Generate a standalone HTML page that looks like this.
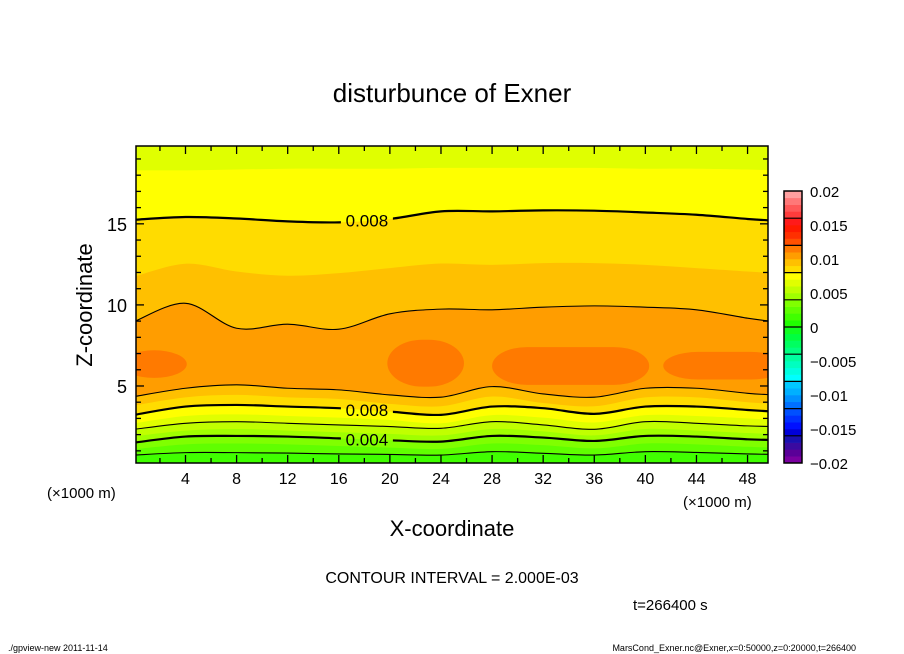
<!DOCTYPE html>
<html><head><meta charset="utf-8"><style>
body{margin:0;background:#fff;}
svg{display:block;font-family:"Liberation Sans","DejaVu Sans",sans-serif;}
</style></head><body>
<svg id="chart" width="904" height="654" viewBox="0 0 904 654">
<defs><clipPath id="plotclip"><rect x="136" y="146" width="632" height="317"/></clipPath>
<mask id="labelmask" maskUnits="userSpaceOnUse" x="0" y="0" width="904" height="654"><rect x="0" y="0" width="904" height="654" fill="#fff"/><g id="maskholes"></g></mask></defs>
<g id="fills" clip-path="url(#plotclip)"></g>
<g clip-path="url(#plotclip)"><g id="lines" mask="url(#labelmask)"></g></g>
<g id="labels"></g>
<g id="axes"></g>
<g id="cbar"></g>
<text x="452" y="102" font-size="26" text-anchor="middle">disturbunce of Exner</text>
<text transform="translate(92,305) rotate(-90)" font-size="22" text-anchor="middle">Z-coordinate</text>
<text x="452" y="536" font-size="22" text-anchor="middle">X-coordinate</text>
<text x="47" y="498" font-size="15">(×1000 m)</text>
<text x="683" y="507" font-size="15">(×1000 m)</text>
<text x="452" y="583" font-size="16" text-anchor="middle">CONTOUR INTERVAL = 2.000E-03</text>
<text x="633" y="610" font-size="15">t=266400 s</text>
<text x="8" y="651" font-size="9">./gpview-new  2011-11-14</text>
<text x="856" y="651" font-size="9" text-anchor="end">MarsCond_Exner.nc@Exner,x=0:50000,z=0:20000,t=266400</text>
</svg>
<script>
// ---- data ----
const xSamples = [0,4,8,12,16,20,24,28,32,36,40,44,48,50];
const boundaryLevels = [0.007,0.008,0.009,0.010,0.010,0.009,0.008,0.007,0.006,0.005,0.004,0.003,0.002];
const bandBelow = [0.007,0.008,0.009,0.010,0.009,0.008,0.007,0.006,0.005,0.004,0.003,0.002,0.001];
const topBand = 0.006;
const zB1 = [18.3,18.3,18.35,18.4,18.4,18.4,18.45,18.45,18.45,18.45,18.4,18.4,18.35,18.3];
const zB2 = [15.25,15.42,15.33,15.15,15.09,15.3,15.77,15.77,15.83,15.81,15.7,15.56,15.3,15.2];
const zB3 = [11.75,12.54,12.06,11.8,11.96,12.27,12.55,12.47,12.58,12.58,12.47,12.27,12.06,11.96];
const zB4 = [8.98,10.1,8.56,8.81,8.5,9.45,9.74,9.7,9.86,9.94,9.86,9.7,9.18,8.98];
const zB5 = [4.35,4.86,5.07,4.86,4.76,4.45,4.31,4.96,4.51,4.31,4.86,4.86,4.55,4.45];
const zB6 = [3.8,4.3,4.45,4.3,4.2,3.9,3.75,4.35,3.95,3.75,4.3,4.3,4.0,3.9];
const zB7 = [3.22,3.73,3.83,3.73,3.63,3.42,3.22,3.73,3.63,3.28,3.73,3.73,3.52,3.42];
const zB8 = [2.7,3.15,3.25,3.15,3.05,2.9,2.7,3.2,3.05,2.75,3.2,3.15,3.0,2.9];
const zB9 = [2.33,2.7,2.8,2.7,2.6,2.5,2.39,2.8,2.6,2.33,2.8,2.7,2.54,2.5];
const zB10 = [1.9,2.25,2.35,2.25,2.15,2.05,1.95,2.35,2.2,1.95,2.35,2.25,2.1,2.05];
const zB11 = [1.51,1.88,1.92,1.88,1.77,1.65,1.57,1.92,1.82,1.61,1.92,1.88,1.71,1.67];
const zB12 = [1.1,1.4,1.45,1.4,1.3,1.2,1.12,1.45,1.35,1.15,1.45,1.4,1.25,1.2];
const zB13 = [0.74,0.89,0.89,0.86,0.81,0.78,0.74,0.95,0.85,0.74,0.95,0.9,0.81,0.78];
const boundaryZ = [zB1,zB2,zB3,zB4,zB5,zB6,zB7,zB8,zB9,zB10,zB11,zB12,zB13];
// patches of 0.011-0.012
const patchX0 = [-1,19.8,28.0,41.4];
const patchX1 = [4.1,25.8,40.3,51];
const patchZTop = [7.2,7.85,7.4,7.1];
const patchZBot = [5.5,4.96,5.07,5.4];
const patchBand = 0.011;
const labelX = 18.2;
const xTicks = [4,8,12,16,20,24,28,32,36,40,44,48];
const zTicks = [5,10,15];
const cbarTicks = [0.02,0.015,0.01,0.005,0,-0.005,-0.01,-0.015,-0.02];
const cbarColors = ["#7a00a0","#5a0098","#3a0aa0","#1a10b0","#0000d8","#0010ff","#0030ff","#0050ff","#0070ff","#0090ff","#00b0ff","#00c8ff","#00ffff","#00ffe0","#00ffc0","#00ffa0","#00ff80","#00ff60","#00ff40","#10ff20","#20ff00","#40ff00","#60ff00","#80ff00","#a0ff00","#c0ff00","#e0ff00","#ffff00","#ffdc00","#ffc000","#ff9d00","#ff7a00","#ff5000","#ff3000","#ff1a00","#ff1a1a","#ff3c3c","#ff5858","#ff7878","#ffa0a0"];

// ---- axes functions ----
const X0=136,X1=768,Y0=463,Y1=146, XMIN=0.125, XMAX=49.6, ZMIN=0.25, ZMAX=19.8;
const sx = v => X0 + (v-XMIN)/(XMAX-XMIN)*(X1-X0);
const sz = v => Y0 - (v-ZMIN)/(ZMAX-ZMIN)*(Y0-Y1);
const colorFor = lo => cbarColors[Math.round((lo+0.02)/0.001)];
const NS="http://www.w3.org/2000/svg";
function mk(tag, attrs, parent){const e=document.createElementNS(NS,tag);for(const k in attrs)e.setAttribute(k,attrs[k]);parent.appendChild(e);return e;}
function curve(zs){
  const p = xSamples.map((x,i)=>[sx(x),sz(zs[i])]);
  let d = `M${p[0][0]},${p[0][1]}`;
  for(let i=0;i<p.length-1;i++){
    const a=p[Math.max(0,i-1)],b=p[i],c=p[i+1],e=p[Math.min(p.length-1,i+2)];
    d+=` C${b[0]+(c[0]-a[0])/6},${b[1]+(c[1]-a[1])/6} ${c[0]-(e[0]-b[0])/6},${c[1]-(e[1]-b[1])/6} ${c[0]},${c[1]}`;
  }
  return d;
}
const fills=document.getElementById('fills'), lines=document.getElementById('lines'), axes=document.getElementById('axes'), cbar=document.getElementById('cbar'), labels=document.getElementById('labels'), holes=document.getElementById('maskholes');
let r=mk('rect',{x:X0,y:Y1,width:X1-X0,height:Y0-Y1,fill:colorFor(topBand)},fills);


boundaryZ.forEach((zs,i)=>{
  const d = curve(zs)+` L${sx(50)+5},${Y0+5} L${sx(0)-5},${Y0+5} Z`;
  const el=mk('path',{d:d,fill:colorFor(bandBelow[i])},fills);
  
  
  if(i===3){
    patchX0.forEach((x0,j)=>{
      const pw=sx(patchX1[j])-sx(x0), ph=sz(patchZBot[j])-sz(patchZTop[j]);
      const pe=mk('rect',{x:sx(x0),y:sz(patchZTop[j]),width:pw,height:ph,rx:Math.min(pw/2,35),ry:ph/2,fill:colorFor(patchBand)},fills);
      
      
    });
  }
});
// contour lines (every 0.002; thick every 0.004)
boundaryZ.forEach((zs,i)=>{
  const lv=Math.round(boundaryLevels[i]*1000);
  if(lv%2!==0) return;
  const thick = lv%4===0;
  const el=mk('path',{d:curve(zs),fill:'none',stroke:'#000','stroke-width':thick?2.2:1.1},lines);
  
  
  if(thick){
    const zi = zs[4]+(zs[5]-zs[4])*((labelX-16)/4);
    mk('rect',{x:sx(labelX)-26,y:sz(zi)-10,width:52,height:20,fill:'#000'},holes);
    const t=mk('text',{x:sx(labelX),y:sz(zi)+6,'font-size':17,'text-anchor':'middle'},labels);
    t.textContent=boundaryLevels[i].toFixed(3);
    
    
  }
});
// frame
let fr=mk('rect',{x:X0,y:Y1,width:X1-X0,height:Y0-Y1,fill:'none',stroke:'#000','stroke-width':1.5},axes);


for(let v=2;v<=48;v+=2){
  const L = v%4===0?8:5;
  mk('line',{x1:sx(v),x2:sx(v),y1:Y0,y2:Y0-L,stroke:'#000','stroke-width':1.3},axes);
  mk('line',{x1:sx(v),x2:sx(v),y1:Y1,y2:Y1+L,stroke:'#000','stroke-width':1.3},axes);
}
for(let v=1;v<=19;v++){
  const L = v%5===0?8:5;
  mk('line',{x1:X0,x2:X0+L,y1:sz(v),y2:sz(v),stroke:'#000','stroke-width':1.3},axes);
  mk('line',{x1:X1,x2:X1-L,y1:sz(v),y2:sz(v),stroke:'#000','stroke-width':1.3},axes);
}
xTicks.forEach(v=>{
  const t=mk('text',{x:sx(v),y:484,'font-size':16,'text-anchor':'middle'},axes);
  t.textContent=v;
  
  
});
zTicks.forEach(v=>{
  const t=mk('text',{x:127,y:sz(v)+7,'font-size':18,'text-anchor':'end'},axes);
  t.textContent=v;
  
  
});
// colorbar
const CB0=463, CB1=191, CX=784, CW=18;
const cy = v => CB0 - (v+0.02)/0.04*(CB0-CB1);
cbarColors.forEach((c,i)=>{
  const v=-0.02+i*0.001;
  const el=mk('rect',{x:CX,y:cy(v+0.001),width:CW,height:cy(v)-cy(v+0.001)+0.3,fill:c},cbar);
  
  
});
for(let k=1;k<10;k++){
  mk('line',{x1:CX,x2:CX+CW,y1:cy(-0.02+k*0.004),y2:cy(-0.02+k*0.004),stroke:'#000','stroke-width':1.2},cbar);
}
mk('rect',{x:CX,y:CB1,width:CW,height:CB0-CB1,fill:'none',stroke:'#000','stroke-width':1.5},cbar);
cbarTicks.forEach(v=>{
  const t=mk('text',{x:810,y:cy(v)+6,'font-size':15},cbar);
  t.textContent = v===0?'0':(v<0?'\u2212'+String(-v):String(v));
  
  
});
</script>
</body></html>
